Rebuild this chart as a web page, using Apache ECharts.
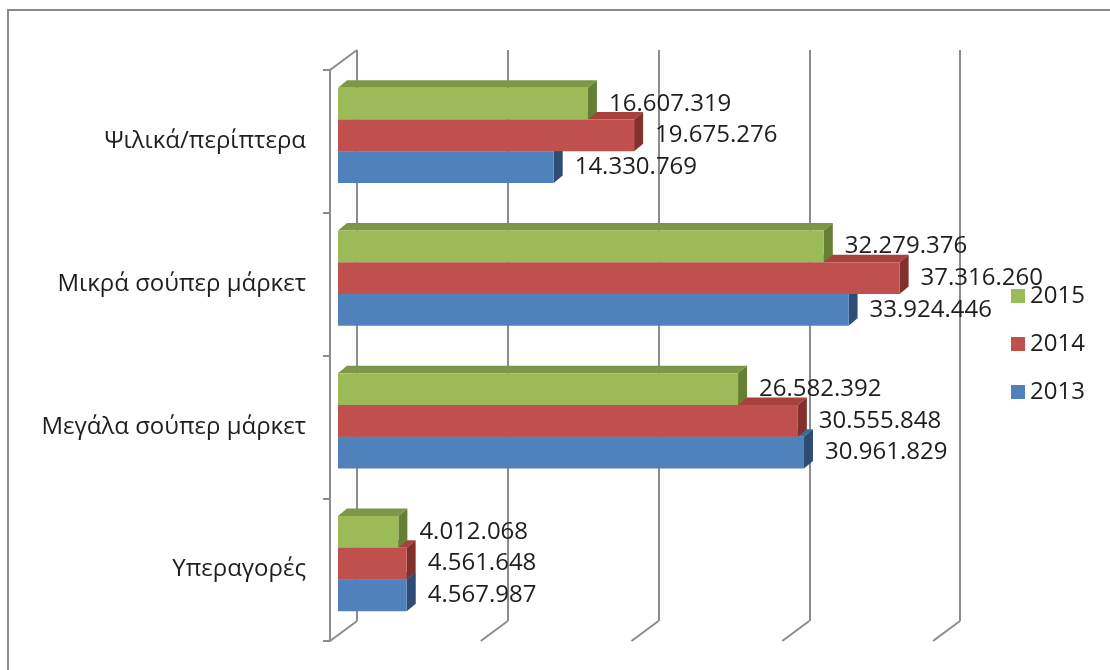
<!DOCTYPE html>
<html>
<head>
<meta charset="utf-8">
<script src="https://cdn.jsdelivr.net/npm/echarts@6/dist/echarts.min.js"></script>
<style>
  html, body { margin: 0; padding: 0; background: #ffffff; }
  #chart { width: 1110px; height: 670px; }
</style>
</head>
<body>
<div id="chart"></div>
<script>
// Sales per store type, by year
const categories = ['Ψιλικά/περίπτερα', 'Μικρά σούπερ μάρκετ', 'Μεγάλα σούπερ μάρκετ', 'Υπεραγορές'];
const years = ['2013', '2014', '2015'];
const values2013 = [14330769, 33924446, 30961829, 4567987];
const values2014 = [19675276, 37316260, 30555848, 4561648];
const values2015 = [16607319, 32279376, 26582392, 4012068];
const axisTicks = [0, 10000000, 20000000, 30000000, 40000000];

const AXIS_MAX = 40000000;
const FONT = 'Open Sans';
const TEXT = '#1e1e1e';
const LINE = '#8c8c8c';

// front / top / side shades for each year's boxes
const palette = {
  '2013': { front: '#4F81BD', top: '#3F6A9E', side: '#2F4C74' },
  '2014': { front: '#C0504D', top: '#A8403D', side: '#832F2C' },
  '2015': { front: '#9BBB59', top: '#7A9848', side: '#667F35' }
};
const seriesValues = { '2013': values2013, '2014': values2014, '2015': values2015 };
// vertical slot of each year inside a category band (2015 on top)
const slot = { '2015': -1, '2014': 0, '2013': 1 };

const DEPTH_X = 9, DEPTH_Y = 7.5;     // box depth
const WALL_X = 27, WALL_Y = 20;       // floor depth
const BAR_RATIO = 0.222;

function fmt(v) {
  return String(v).replace(/\B(?=(\d{3})+(?!\d))/g, '.');
}

function barRenderer(year) {
  const c = palette[year];
  return function (params, api) {
    const v = api.value(0);
    const cat = api.value(1);
    const p0 = api.coord([0, cat]);
    const p1 = api.coord([v, cat]);
    const band = api.size([0, 1])[1];
    const h = band * BAR_RATIO;
    const cy = p0[1] + slot[year] * h;
    const x0 = p0[0], x1 = p1[0];
    const yT = cy - h / 2, yB = cy + h / 2;
    return {
      type: 'group',
      children: [
        { type: 'polygon', shape: { points: [[x0, yT], [x1, yT], [x1 + DEPTH_X, yT - DEPTH_Y], [x0 + DEPTH_X, yT - DEPTH_Y]] },
          style: { fill: c.top } },
        { type: 'polygon', shape: { points: [[x1, yT], [x1 + DEPTH_X, yT - DEPTH_Y], [x1 + DEPTH_X, yB - DEPTH_Y], [x1, yB]] },
          style: { fill: c.side } },
        { type: 'rect', shape: { x: x0, y: yT, width: x1 - x0, height: h },
          style: { fill: c.front } },
        { type: 'text', z2: 100,
          style: { x: x1 + 21, y: cy, text: fmt(v), fill: TEXT, font: '24px "' + FONT + '"',
                   align: 'left', verticalAlign: 'middle' } }
      ]
    };
  };
}

function floorRenderer(params, api) {
  const v = api.value(0);
  const x = api.coord([v, 0])[0];
  const top = params.coordSys.y;
  const bottom = params.coordSys.y + params.coordSys.height;
  const children = [
    { type: 'line', shape: { x1: x, y1: bottom, x2: x + WALL_X, y2: bottom - WALL_Y },
      style: { stroke: LINE, lineWidth: 2 } }
  ];
  if (v === 0) {
    children.push({ type: 'line', shape: { x1: x, y1: top, x2: x + WALL_X, y2: top - WALL_Y },
      style: { stroke: LINE, lineWidth: 2 } });
  }
  return { type: 'group', children: children };
}

const barSeries = years.map(function (y) {
  return {
    name: y,
    type: 'custom',
    xAxisIndex: 0,
    yAxisIndex: 0,
    z: 3,
    itemStyle: { color: palette[y].front },
    encode: { x: 0, y: 1 },
    data: seriesValues[y].map(function (v, i) { return [v, i]; }),
    renderItem: barRenderer(y)
  };
});

const chart = echarts.init(document.getElementById('chart'), null, { renderer: 'canvas' });
chart.setOption({
  animation: false,
  backgroundColor: '#ffffff',
  graphic: [
    { type: 'rect', shape: { x: 8, y: 10, width: 1200, height: 800 },
      style: { fill: 'none', stroke: '#8a8a8a', lineWidth: 2 }, z: 0 }
  ],
  grid: [
    { left: 338, right: 170, top: 64, bottom: 35 },   // boxes
    { left: 330, right: 177, top: 70, bottom: 29 },   // front axis / floor
    { left: 357, right: 150, top: 50, bottom: 49 }    // back wall
  ],
  xAxis: [
    { gridIndex: 0, type: 'value', min: 0, max: AXIS_MAX, interval: 10000000, show: false },
    { gridIndex: 1, type: 'value', min: 0, max: AXIS_MAX, interval: 10000000, show: false },
    { gridIndex: 2, type: 'value', min: 0, max: AXIS_MAX, interval: 10000000,
      axisLine: { show: false }, axisTick: { show: false }, axisLabel: { show: false },
      splitLine: { show: true, lineStyle: { color: LINE, width: 2 } } }
  ],
  yAxis: [
    { gridIndex: 0, type: 'category', data: categories, inverse: true, show: false },
    { gridIndex: 1, type: 'category', data: categories, inverse: true,
      axisLine: { show: true, lineStyle: { color: LINE, width: 2 } },
      axisTick: { show: true, length: 7, lineStyle: { color: LINE, width: 2 } },
      axisLabel: { color: TEXT, fontFamily: FONT, fontSize: 24, margin: 24, padding: [6, 0, 0, 0] },
      splitLine: { show: false } },
    { gridIndex: 2, type: 'category', data: categories, inverse: true, show: false }
  ],
  legend: {
    orient: 'vertical',
    left: 1011,
    top: 282,
    padding: 0,
    itemWidth: 14,
    itemHeight: 14,
    itemGap: 20,
    icon: 'rect',
    selectedMode: false,
    data: ['2015', '2014', '2013'],
    textStyle: { color: TEXT, fontFamily: FONT, fontSize: 24, lineHeight: 28 }
  },
  series: [
    {
      name: 'floor',
      type: 'custom',
      xAxisIndex: 1,
      yAxisIndex: 1,
      z: 1,
      silent: true,
      encode: { x: 0, y: 1 },
      data: axisTicks.map(function (t) { return [t, 0]; }),
      renderItem: floorRenderer
    }
  ].concat(barSeries)
});
</script>
</body>
</html>
